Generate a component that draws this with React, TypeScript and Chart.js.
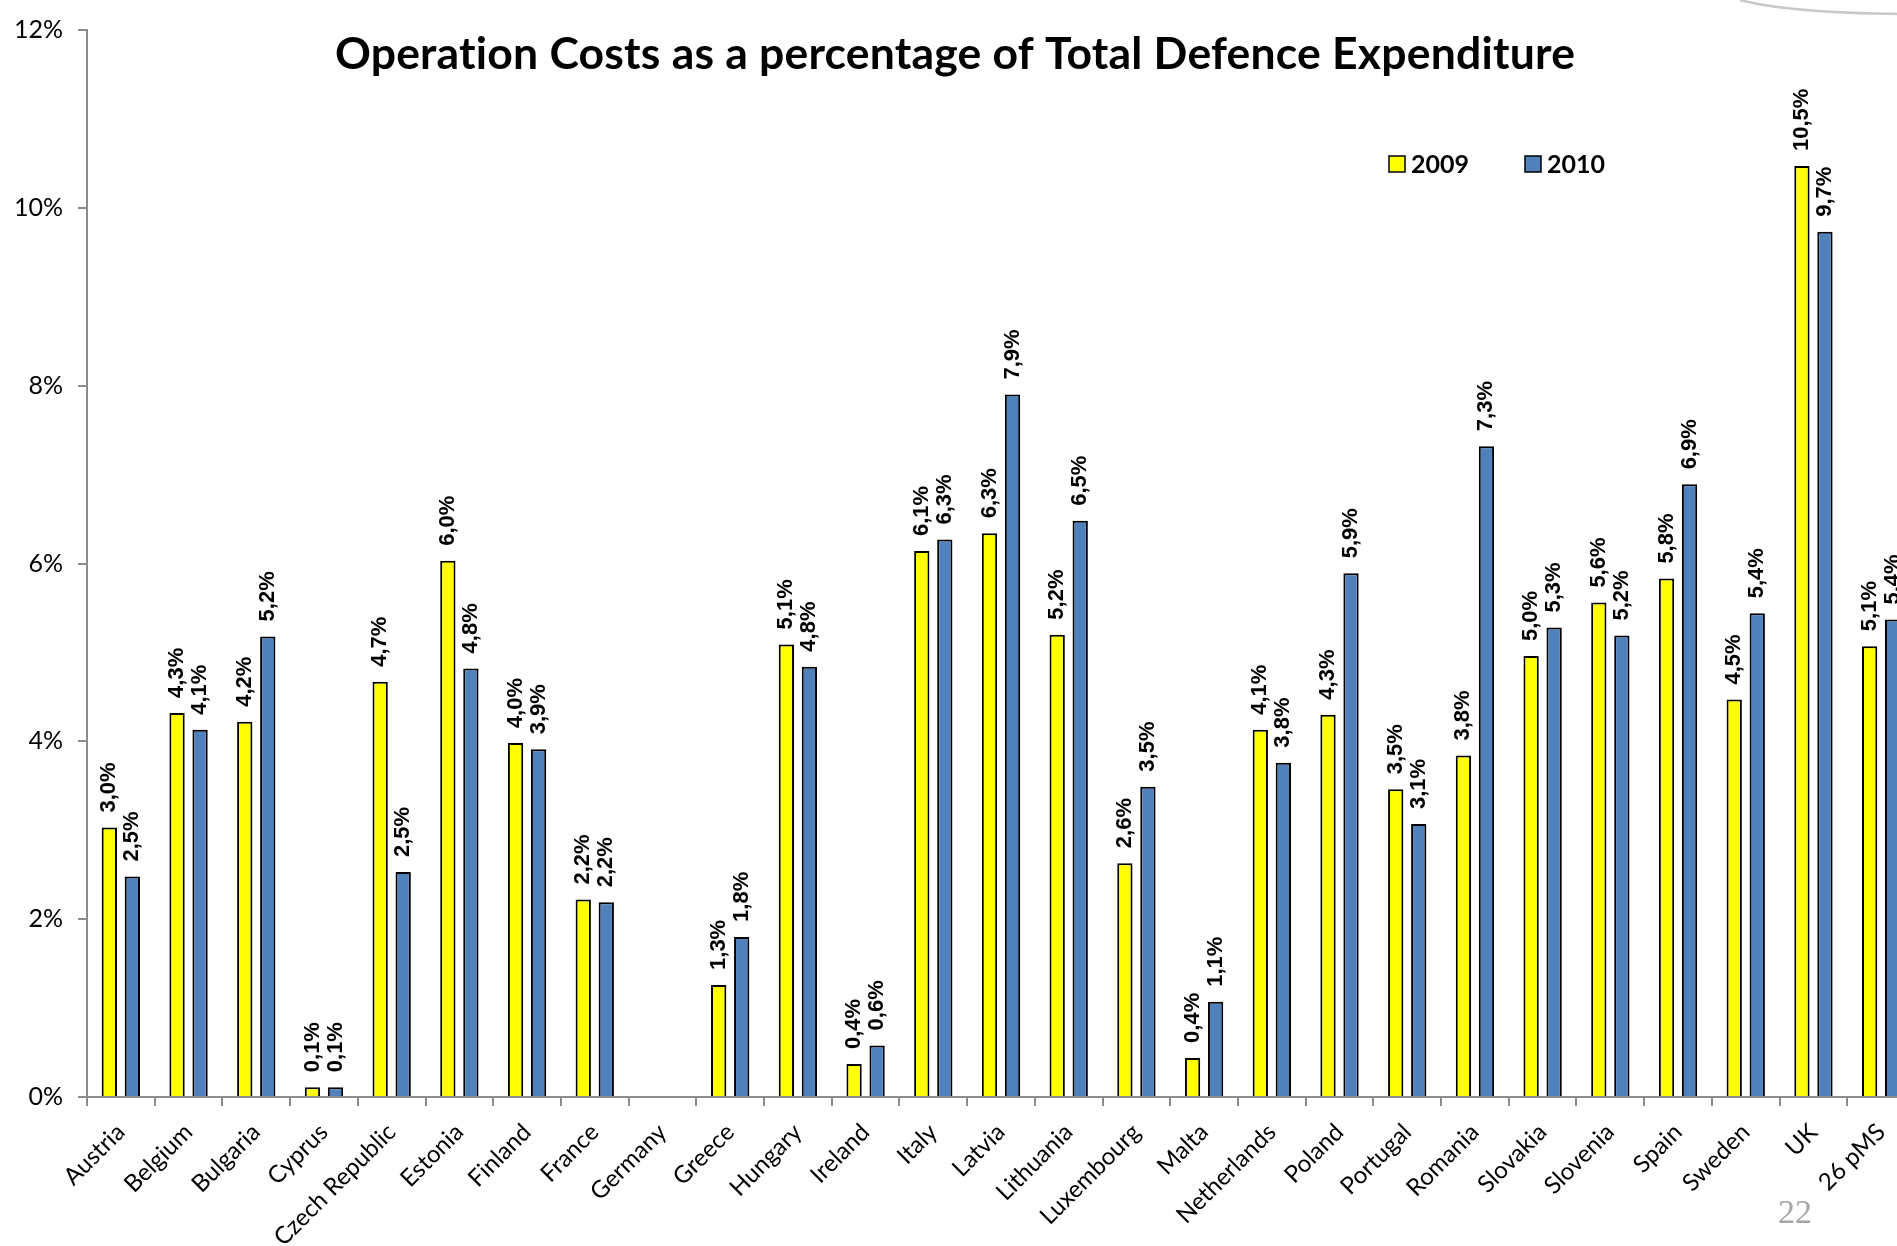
import { useEffect, useRef } from "react";
import { Chart, registerables } from "chart.js";

Chart.register(...registerables);

const categories = [
  "Austria", "Belgium", "Bulgaria", "Cyprus", "Czech Republic", "Estonia", "Finland",
  "France", "Germany", "Greece", "Hungary", "Ireland", "Italy", "Latvia", "Lithuania",
  "Luxembourg", "Malta", "Netherlands", "Poland", "Portugal", "Romania", "Slovakia",
  "Slovenia", "Spain", "Sweden", "UK", "26 pMS",
];

const series2009: (number | null)[] = [
  3.03, 4.32, 4.22, 0.11, 4.67, 6.03, 3.98, 2.22, null, 1.26, 5.09, 0.37, 6.14, 6.34,
  5.2, 2.63, 0.44, 4.13, 4.3, 3.46, 3.84, 4.96, 5.56, 5.83, 4.47, 10.47, 5.07,
];

const series2010: (number | null)[] = [
  2.48, 4.13, 5.18, 0.11, 2.53, 4.82, 3.91, 2.19, null, 1.8, 4.84, 0.58, 6.27, 7.9,
  6.48, 3.49, 1.07, 3.76, 5.89, 3.07, 7.32, 5.28, 5.19, 6.89, 5.44, 9.73, 5.37,
];

const seriesNames = ["2009", "2010"];
const yTickValues = [0, 2, 4, 6, 8, 10, 12];
const chartTitle = "Operation Costs as a percentage of Total Defence Expenditure";
const pageNumber = "22";

const fmt = (v: number) => v.toFixed(1).replace(".", ",") + "%";

const decorPlugin = {
  id: "decor",
  afterDatasetsDraw(chart: any) {
    const ctx = chart.ctx;
    ctx.save();
    ctx.fillStyle = "#000";
    ctx.font = "bold 22px 'Liberation Sans', Arial, sans-serif";
    ctx.textAlign = "left";
    ctx.textBaseline = "middle";
    chart.data.datasets.forEach((ds: any, i: number) => {
      const meta = chart.getDatasetMeta(i);
      meta.data.forEach((el: any, j: number) => {
        const v = ds.data[j];
        if (v === null || v === undefined) return;
        ctx.save();
        ctx.translate(el.x, el.y - 15);
        ctx.rotate(-Math.PI / 2);
        ctx.fillText(fmt(v), 0, 0);
        ctx.restore();
      });
    });
    ctx.restore();
  },
  afterDraw(chart: any) {
    const ctx = chart.ctx;
    ctx.save();
    // title
    ctx.fillStyle = "#000";
    ctx.font = "bold 44.5px Lato, sans-serif";
    ctx.textAlign = "center";
    ctx.textBaseline = "alphabetic";
    try {
      (ctx as any).letterSpacing = "0.2px";
    } catch (e) {}
    ctx.fillText(chartTitle, 955, 69);
    try {
      (ctx as any).letterSpacing = "0px";
    } catch (e) {}
    // legend
    const legendX = [1389, 1525];
    ctx.font = "bold 25px Lato, sans-serif";
    ctx.textAlign = "left";
    ctx.textBaseline = "middle";
    chart.data.datasets.forEach((ds: any, i: number) => {
      const x = legendX[i];
      ctx.fillStyle = ds.backgroundColor;
      ctx.fillRect(x, 156, 16, 16);
      ctx.strokeStyle = "#000";
      ctx.lineWidth = 1.5;
      ctx.strokeRect(x, 156, 16, 16);
      ctx.fillStyle = "#000";
      ctx.fillText(ds.label, x + 22, 165);
    });
    // page number
    ctx.fillStyle = "#a6a6a6";
    ctx.font = "34px 'Liberation Serif', 'Times New Roman', serif";
    ctx.textAlign = "left";
    ctx.textBaseline = "alphabetic";
    ctx.fillText(pageNumber, 1778, 1223);
    // top-right decorative curve
    ctx.strokeStyle = "#c8c8c8";
    ctx.lineWidth = 2.5;
    ctx.beginPath();
    ctx.moveTo(1740, 0);
    ctx.quadraticCurveTo(1790, 13, 1900, 14);
    ctx.stroke();
    ctx.restore();
  },
};

export default function App() {
  const ref = useRef<HTMLCanvasElement>(null);

  useEffect(() => {
    document.body.style.margin = "0";
    const axisGrey = "#8c8c8c";
    const chart = new Chart(ref.current as HTMLCanvasElement, {
      type: "bar",
      data: {
        labels: categories,
        datasets: [
          {
            label: seriesNames[0],
            data: series2009,
            backgroundColor: "#FFFF00",
            borderColor: "#000000",
            borderWidth: 2,
            categoryPercentage: 0.68,
            barPercentage: 0.665,
          },
          {
            label: seriesNames[1],
            data: series2010,
            backgroundColor: "#4F81BD",
            borderColor: "#000000",
            borderWidth: 2,
            categoryPercentage: 0.68,
            barPercentage: 0.665,
          },
        ],
      },
      options: {
        responsive: false,
        animation: false,
        devicePixelRatio: 1,
        layout: { padding: { top: 24, right: 45, left: 0, bottom: 0 } },
        plugins: {
          legend: { display: false },
          title: { display: false },
          tooltip: { enabled: false },
        },
        scales: {
          x: {
            type: "category",
            offset: true,
            grid: {
              display: true,
              offset: true,
              drawOnChartArea: false,
              drawTicks: true,
              tickLength: 9,
              color: axisGrey,
              lineWidth: 2,
            },
            border: { display: true, color: axisGrey, width: 2 },
            ticks: {
              autoSkip: false,
              minRotation: 45,
              maxRotation: 45,
              color: "#000",
              padding: 12,
              font: { family: "Lato, sans-serif", size: 24 },
            },
            afterFit: (s: any) => {
              s.height = 149;
            },
          },
          y: {
            min: 0,
            max: 12,
            afterBuildTicks: (s: any) => {
              s.ticks = yTickValues.map((v) => ({ value: v }));
            },
            ticks: {
              color: "#000",
              padding: 15,
              font: { family: "Lato, sans-serif", size: 25 },
              callback: (v: any) => v + "%",
            },
            grid: {
              display: true,
              drawOnChartArea: false,
              drawTicks: true,
              tickLength: 9,
              color: axisGrey,
              lineWidth: 2,
            },
            border: { display: true, color: axisGrey, width: 2 },
            afterFit: (s: any) => {
              s.width = 87;
            },
          },
        },
      },
      plugins: [decorPlugin],
    } as any);
    return () => chart.destroy();
  }, []);

  return (
    <div
      style={{
        position: "fixed",
        left: 0,
        top: 0,
        width: 1897,
        height: 1246,
        overflow: "hidden",
        background: "#fff",
      }}
    >
      <canvas ref={ref} width={1960} height={1246} style={{ display: "block" }} />
    </div>
  );
}
